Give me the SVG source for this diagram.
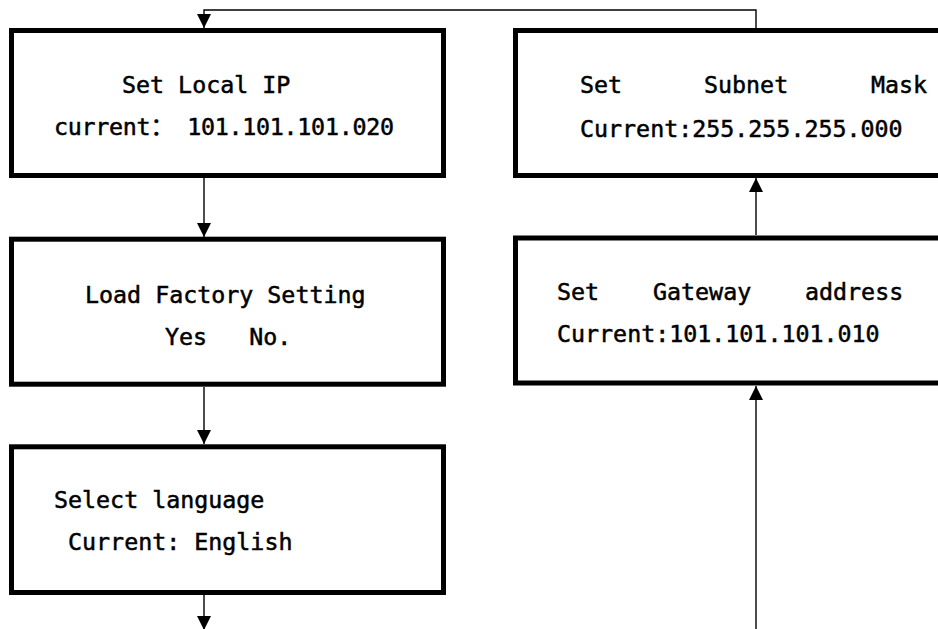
<svg xmlns="http://www.w3.org/2000/svg" width="938" height="629" viewBox="0 0 938 629">
<style>
.box{fill:#fff;stroke:#000;stroke-width:5}
.t{font-family:"DejaVu Sans Mono","Liberation Mono","Noto Sans CJK SC",monospace;font-size:23.3px;fill:#000;stroke:#000;stroke-width:0.5;white-space:pre}
.c{fill:none;stroke:#000;stroke-width:1.4}
</style>
<defs>
<marker id="ah" markerUnits="userSpaceOnUse" markerWidth="14" markerHeight="14" refX="14" refY="7" orient="auto">
<path d="M0,0 L14,7 L0,14 z" fill="#000"/>
</marker>
</defs>
<rect width="938" height="629" fill="#fff"/>
<g id="connectors">
<path class="c" d="M756,30 V10 H204 V28" marker-end="url(#ah)"/>
<path class="c" d="M204,178 V237" marker-end="url(#ah)"/>
<path class="c" d="M204,387 V444" marker-end="url(#ah)"/>
<path class="c" d="M204,595 V630" marker-end="url(#ah)"/>
<path class="c" d="M756,235 V178" marker-end="url(#ah)"/>
<path class="c" d="M756,629 V386" marker-end="url(#ah)"/>
</g>
<g id="node-local-ip">
<rect class="box" x="11.5" y="30.5" width="432" height="145"/>
<text class="t" x="122" y="93">Set Local IP</text>
<text class="t" x="54" y="135" textLength="340" lengthAdjust="spacing">current： 101.101.101.020</text>
</g>
<g id="node-factory">
<rect class="box" x="11.5" y="239.2" width="432" height="145"/>
<text class="t" x="85" y="303">Load Factory Setting</text>
<text class="t" x="165" y="345">Yes   No.</text>
</g>
<g id="node-language">
<rect class="box" x="11.5" y="446.8" width="432" height="145.7"/>
<text class="t" x="54" y="508">Select language</text>
<text class="t" x="54" y="550"> Current: English</text>
</g>
<g id="node-subnet">
<rect class="box" x="515.5" y="30.5" width="500" height="145"/>
<text class="t" x="580" y="93">Set</text>
<text class="t" x="704" y="93">Subnet</text>
<text class="t" x="871" y="93">Mask</text>
<text class="t" x="580" y="137">Current:255.255.255.000</text>
</g>
<g id="node-gateway">
<rect class="box" x="515.5" y="238" width="500" height="145"/>
<text class="t" x="557" y="300">Set</text>
<text class="t" x="653" y="300">Gateway</text>
<text class="t" x="805" y="300">address</text>
<text class="t" x="557" y="342">Current:101.101.101.010</text>
</g>
</svg>
